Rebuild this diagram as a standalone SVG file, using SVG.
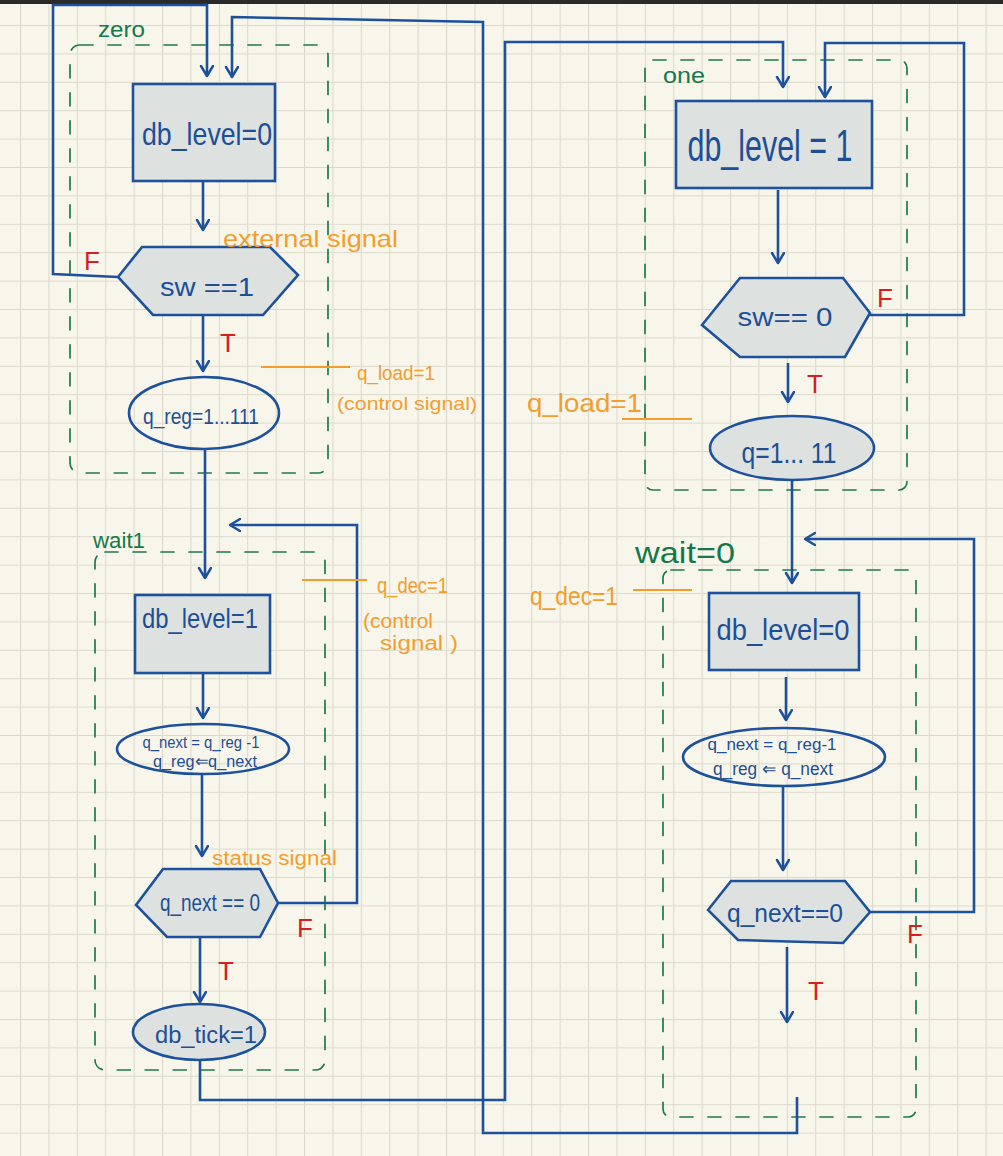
<svg xmlns="http://www.w3.org/2000/svg" width="1003" height="1156" viewBox="0 0 1003 1156">
<defs>
<pattern id="grid" x="20" y="25" width="28.4" height="28.4" patternUnits="userSpaceOnUse">
<path d="M0.5,0.5 H28.4 M0.5,0.5 V28.4" fill="none" stroke="#dcd9cc" stroke-width="1.2"/>
</pattern>
<marker id="arr" markerUnits="userSpaceOnUse" markerWidth="20" markerHeight="20" refX="11" refY="7" orient="auto">
<path d="M1,1 L11,7 L1,13" fill="none" stroke="#1d519c" stroke-width="2.5" stroke-linecap="round" stroke-linejoin="round"/>
</marker>
</defs>
<style>
.box{fill:#dde2e1;stroke:#1d519c;stroke-width:2.6}
.open{fill:none;stroke:#1d519c;stroke-width:2.6}
.c{fill:none;stroke:#1d519c;stroke-width:2.6;stroke-linejoin:miter}
.a{marker-end:url(#arr)}
.st{fill:none;stroke:#1e7a4a;stroke-width:1.7;stroke-dasharray:13 15;stroke-linecap:round}
.t{font-family:"Liberation Sans",Arial,sans-serif;fill:#1d4f96;text-anchor:middle}
.o{font-family:"Liberation Sans",Arial,sans-serif;fill:#f29d2e}
.g{font-family:"Liberation Sans",Arial,sans-serif;fill:#16784a}
.r{font-family:"Liberation Sans",Arial,sans-serif;fill:#d61f1f;font-size:26px}
.ol{stroke:#f29d2e;stroke-width:2.2;fill:none}
</style>
<rect width="1003" height="1156" fill="#f8f6ea"/>
<rect width="1003" height="1156" fill="url(#grid)"/>
<rect width="1003" height="4" fill="#2a2a2a"/>

<g id="states">
<rect x="70" y="45" width="258" height="428" rx="10" class="st"/>
<rect x="645" y="60" width="262" height="430" rx="8" class="st"/>
<rect x="95" y="552" width="230" height="518" rx="10" class="st"/>
<rect x="663" y="570" width="253" height="547" rx="8" class="st"/>
<text class="g" x="98" y="37" font-size="22" textLength="47" lengthAdjust="spacingAndGlyphs">zero</text>
<text class="g" x="663" y="83" font-size="22" textLength="42" lengthAdjust="spacingAndGlyphs">one</text>
<text class="g" x="93" y="548" font-size="22" textLength="52" lengthAdjust="spacingAndGlyphs">wait1</text>
<text class="g" x="635" y="563" font-size="30" textLength="100" lengthAdjust="spacingAndGlyphs">wait=0</text>
</g>

<g id="connectors">
<path class="c a" d="M118,277 L53,274 L53,5 L207,5 L207,76"/>
<path class="c a" d="M797,1097 V1133 H483 V22 L232,17 V77"/>
<path class="c a" d="M200,1060 V1100 H505 V42 H783 V87"/>
<path class="c a" d="M870,315 H964 V43 H825 V97"/>
<path class="c a" d="M203,181 V230"/>
<path class="c a" d="M203,315 V371"/>
<path class="c a" d="M205,450 V578"/>
<path class="c a" d="M203,673 V718"/>
<path class="c a" d="M202,775 V856"/>
<path class="c a" d="M278,903 H357 V525 H230"/>
<path class="c a" d="M200,937 V1002"/>
<path class="c a" d="M778,190 V263"/>
<path class="c a" d="M788,363 V402"/>
<path class="c a" d="M792,480 V583"/>
<path class="c a" d="M786,677 V720"/>
<path class="c a" d="M783,787 V870"/>
<path class="c a" d="M870,912 H974 V539 H805"/>
<path class="c a" d="M787,947 V1022"/>
</g>

<g id="zero_rect">
<rect x="133" y="84" width="142" height="97" class="box"/>
<text class="t" x="207" y="145" font-size="32" textLength="130" lengthAdjust="spacingAndGlyphs">db_level=0</text>
</g>
<g id="zero_sw">
<polygon points="118,277 142,247 270,247 298,275 263,315 153,315" class="box"/>
<text class="t" x="207" y="296" font-size="26" textLength="94" lengthAdjust="spacingAndGlyphs">sw ==1</text>
</g>
<g id="zero_load">
<ellipse cx="204" cy="413" rx="75" ry="36" class="open"/>
<text class="t" x="201" y="424" font-size="22" textLength="116" lengthAdjust="spacingAndGlyphs">q_reg=1...111</text>
</g>

<g id="one_rect">
<rect x="676" y="101" width="196" height="87" class="box"/>
<text class="t" x="770" y="161" font-size="44" textLength="165" lengthAdjust="spacingAndGlyphs">db_level = 1</text>
</g>
<g id="one_sw">
<polygon points="702,325 740,278 843,278 870,313 845,357 740,357" class="box"/>
<text class="t" x="785" y="326" font-size="26" textLength="95" lengthAdjust="spacingAndGlyphs">sw== 0</text>
</g>
<g id="one_load">
<ellipse cx="792" cy="448" rx="82" ry="32" class="box"/>
<text class="t" x="789" y="463" font-size="30" textLength="95" lengthAdjust="spacingAndGlyphs">q=1... 11</text>
</g>

<g id="wait1_rect">
<rect x="135" y="595" width="135" height="78" class="box"/>
<text class="t" x="200" y="628" font-size="28" textLength="116" lengthAdjust="spacingAndGlyphs">db_level=1</text>
</g>
<g id="wait1_dec">
<ellipse cx="203" cy="749" rx="86" ry="25" class="open"/>
<text class="t" x="201" y="748" font-size="17" textLength="117" lengthAdjust="spacingAndGlyphs">q_next = q_reg -1</text>
<text class="t" x="205" y="767" font-size="17" textLength="104" lengthAdjust="spacingAndGlyphs">q_reg⇐q_next</text>
</g>
<g id="wait1_test">
<polygon points="136,905 163,869 260,869 278,903 260,937 167,937" class="box"/>
<text class="t" x="210" y="911" font-size="23" textLength="100" lengthAdjust="spacingAndGlyphs">q_next == 0</text>
</g>
<g id="wait1_tick">
<ellipse cx="199" cy="1032" rx="66" ry="28" class="box"/>
<text class="t" x="206" y="1043" font-size="23" textLength="102" lengthAdjust="spacingAndGlyphs">db_tick=1</text>
</g>

<g id="wait0_rect">
<rect x="709" y="593" width="150" height="77" class="box"/>
<text class="t" x="783" y="640" font-size="30" textLength="133" lengthAdjust="spacingAndGlyphs">db_level=0</text>
</g>
<g id="wait0_dec">
<ellipse cx="784" cy="757" rx="101" ry="29" class="open"/>
<text class="t" x="772" y="750" font-size="17" textLength="129" lengthAdjust="spacingAndGlyphs">q_next = q_reg-1</text>
<text class="t" x="773" y="775" font-size="18" textLength="120" lengthAdjust="spacingAndGlyphs">q_reg ⇐ q_next</text>
</g>
<g id="wait0_test">
<polygon points="708,910 731,881 845,881 870,912 843,943 738,940" class="box"/>
<text class="t" x="785" y="922" font-size="25" textLength="116" lengthAdjust="spacingAndGlyphs">q_next==0</text>
</g>

<g id="labels">
<text class="r" x="84" y="270">F</text>
<text class="r" x="220" y="352">T</text>
<text class="r" x="877" y="307">F</text>
<text class="r" x="807" y="393">T</text>
<text class="r" x="297" y="937">F</text>
<text class="r" x="218" y="980">T</text>
<text class="r" x="907" y="943">F</text>
<text class="r" x="808" y="1000">T</text>
</g>

<g id="annotations">
<text class="o" x="223" y="247" font-size="24" textLength="175" lengthAdjust="spacingAndGlyphs">external signal</text>
<line class="ol" x1="261" y1="367" x2="350" y2="367"/>
<text class="o" x="357" y="380" font-size="21" textLength="78" lengthAdjust="spacingAndGlyphs">q_load=1</text>
<text class="o" x="337" y="410" font-size="19" textLength="140" lengthAdjust="spacingAndGlyphs">(control signal)</text>
<text class="o" x="527" y="412" font-size="26" textLength="115" lengthAdjust="spacingAndGlyphs">q_load=1</text>
<line class="ol" x1="622" y1="419" x2="692" y2="419"/>
<line class="ol" x1="302" y1="580" x2="367" y2="580"/>
<text class="o" x="377" y="593" font-size="22" textLength="71" lengthAdjust="spacingAndGlyphs">q_dec=1</text>
<text class="o" x="363" y="628" font-size="20" textLength="70" lengthAdjust="spacingAndGlyphs">(control</text>
<text class="o" x="380" y="650" font-size="20" textLength="78" lengthAdjust="spacingAndGlyphs">signal )</text>
<text class="o" x="530" y="605" font-size="26" textLength="88" lengthAdjust="spacingAndGlyphs">q_dec=1</text>
<line class="ol" x1="633" y1="590" x2="692" y2="590"/>
<text class="o" x="212" y="865" font-size="20" textLength="125" lengthAdjust="spacingAndGlyphs">status signal</text>
</g>
</svg>
